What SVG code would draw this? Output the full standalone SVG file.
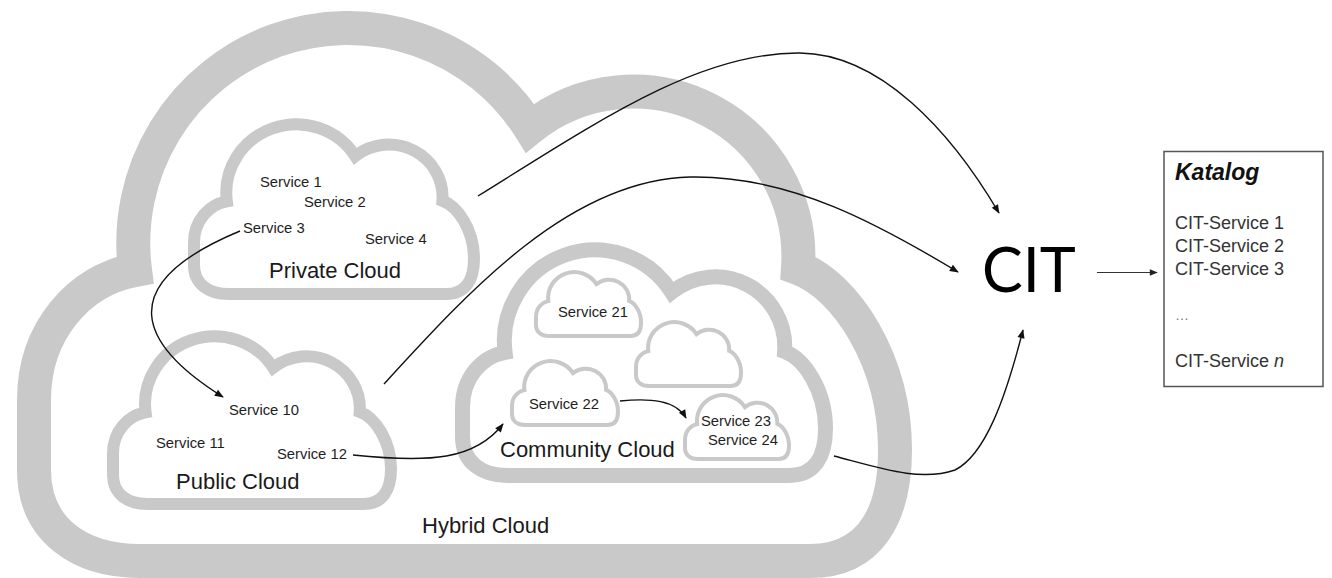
<svg xmlns="http://www.w3.org/2000/svg" xmlns:xlink="http://www.w3.org/1999/xlink" width="1332" height="578" viewBox="0 0 1332 578">
<style>
.cloud{fill:#ffffff;stroke:#c9c9c9;stroke-linejoin:miter}
.cloud use, .cloud path{vector-effect:non-scaling-stroke}
.svc{font-family:"Liberation Sans",Arial,sans-serif;font-size:14.8px;fill:#1e1e1e}
.big{font-family:"Liberation Sans",Arial,sans-serif;font-size:22px;fill:#1a1a1a}
.cat{font-family:"Liberation Sans",Arial,sans-serif;font-size:18px;fill:#333333}
.conn{fill:none;stroke:#111111;stroke-width:1.4}
</style>
<defs>
<path id="cloudShape" d="M135,270 A215,215 0 0 1 530,128 A165,165 0 0 1 798,268 C845,285 895,360 895,450 C895,515 870,561 810,561 L140,561 C80,561 34,530 34,470 L34,400 C34,330 80,280 135,270 Z" vector-effect="non-scaling-stroke"/>
<marker id="ah" viewBox="0 0 10 10" refX="9" refY="5" markerWidth="10" markerHeight="9" markerUnits="userSpaceOnUse" orient="auto">
<path d="M0,1 L10,5 L0,9 Z" fill="#111111"/>
</marker>
<marker id="ahs" viewBox="0 0 10 10" refX="9" refY="5" markerWidth="9" markerHeight="8" markerUnits="userSpaceOnUse" orient="auto">
<path d="M0,1 L10,5 L0,9 Z" fill="#222222"/>
</marker>
</defs>

<g id="hybrid-cloud">
<use xlink:href="#cloudShape" class="cloud" style="stroke-width:34"/>
<text class="big" x="422" y="533">Hybrid Cloud</text>
</g>

<g id="private-cloud">
<use xlink:href="#cloudShape" class="cloud" style="stroke-width:12" transform="matrix(0.3252,0,0,0.3184,182.94,115.40)"/>
<text class="svc" x="260" y="187">Service 1</text>
<text class="svc" x="304" y="207">Service 2</text>
<text class="svc" x="243" y="233">Service 3</text>
<text class="svc" x="365" y="244">Service 4</text>
<text class="big" x="269" y="278">Private Cloud</text>
</g>

<g id="public-cloud">
<use xlink:href="#cloudShape" class="cloud" style="stroke-width:12" transform="matrix(0.3229,0,0,0.3146,102.02,327.51)"/>
<text class="svc" x="229" y="415">Service 10</text>
<text class="svc" x="156" y="448">Service 11</text>
<text class="svc" x="277" y="459">Service 12</text>
<text class="big" x="176" y="489">Public Cloud</text>
</g>

<g id="community-cloud">
<use xlink:href="#cloudShape" class="cloud" style="stroke-width:15" transform="matrix(0.4216,0,0,0.4232,448.17,238.07)"/>
<text class="big" x="500" y="457">Community Cloud</text>
</g>

<g id="service-21">
<use xlink:href="#cloudShape" class="cloud" style="stroke-width:4" transform="matrix(0.1220,0,0,0.1199,531.85,268.76)"/>
<text class="svc" x="558" y="317">Service 21</text>
</g>

<g id="empty-cloud">
<use xlink:href="#cloudShape" class="cloud" style="stroke-width:4" transform="matrix(0.1220,0,0,0.1199,631.85,318.76)"/>
</g>

<g id="service-22">
<use xlink:href="#cloudShape" class="cloud" style="stroke-width:4" transform="matrix(0.1231,0,0,0.1199,507.81,357.76)"/>
<text class="svc" x="529" y="409">Service 22</text>
</g>

<g id="service-23-24">
<use xlink:href="#cloudShape" class="cloud" style="stroke-width:4" transform="matrix(0.1208,0,0,0.1199,680.89,391.76)"/>
<text class="svc" x="701" y="426">Service 23</text>
<text class="svc" x="708" y="445">Service 24</text>
</g>

<g id="cit">
<text x="982" y="292" style="font-family:Lato,'Liberation Sans',sans-serif;font-size:61px;fill:#000000">CIT</text>
</g>

<g id="katalog">
<rect x="1164" y="151.5" width="159" height="235" fill="#ffffff" stroke="#555555" stroke-width="1.5"/>
<text x="1175" y="180" style="font-family:'Liberation Sans',Arial,sans-serif;font-size:23px;font-weight:bold;font-style:italic;fill:#111111">Katalog</text>
<text class="cat" x="1175" y="228.5">CIT-Service 1</text>
<text class="cat" x="1175" y="251.5">CIT-Service 2</text>
<text class="cat" x="1175" y="274.5">CIT-Service 3</text>
<text class="cat" x="1175" y="320" style="fill:#777777;font-size:14px">…</text>
<text class="cat" x="1175" y="367">CIT-Service <tspan font-style="italic">n</tspan></text>
</g>

<g id="connectors">
<path class="conn" d="M478,196 C600,120 700,52 800,53 C880,54 950,130 999,213" marker-end="url(#ah)"/>
<path class="conn" d="M384,384 C470,290 570,180 690,177 C790,175 880,225 958,272" marker-end="url(#ah)"/>
<path class="conn" d="M240,231 C110,285 140,345 223,397" marker-end="url(#ah)"/>
<path class="conn" d="M353,455 C430,463 475,460 503,424" marker-end="url(#ah)"/>
<path class="conn" d="M620,401 C650,398 676,400 686,418" marker-end="url(#ah)"/>
<path class="conn" d="M834,456 C880,468 920,482 955,470 C985,455 1005,400 1023,330" marker-end="url(#ah)"/>
<path class="conn" style="stroke-width:1;stroke:#333333" d="M1097,272.5 L1157,272.5" marker-end="url(#ahs)"/>
</g>
</svg>
